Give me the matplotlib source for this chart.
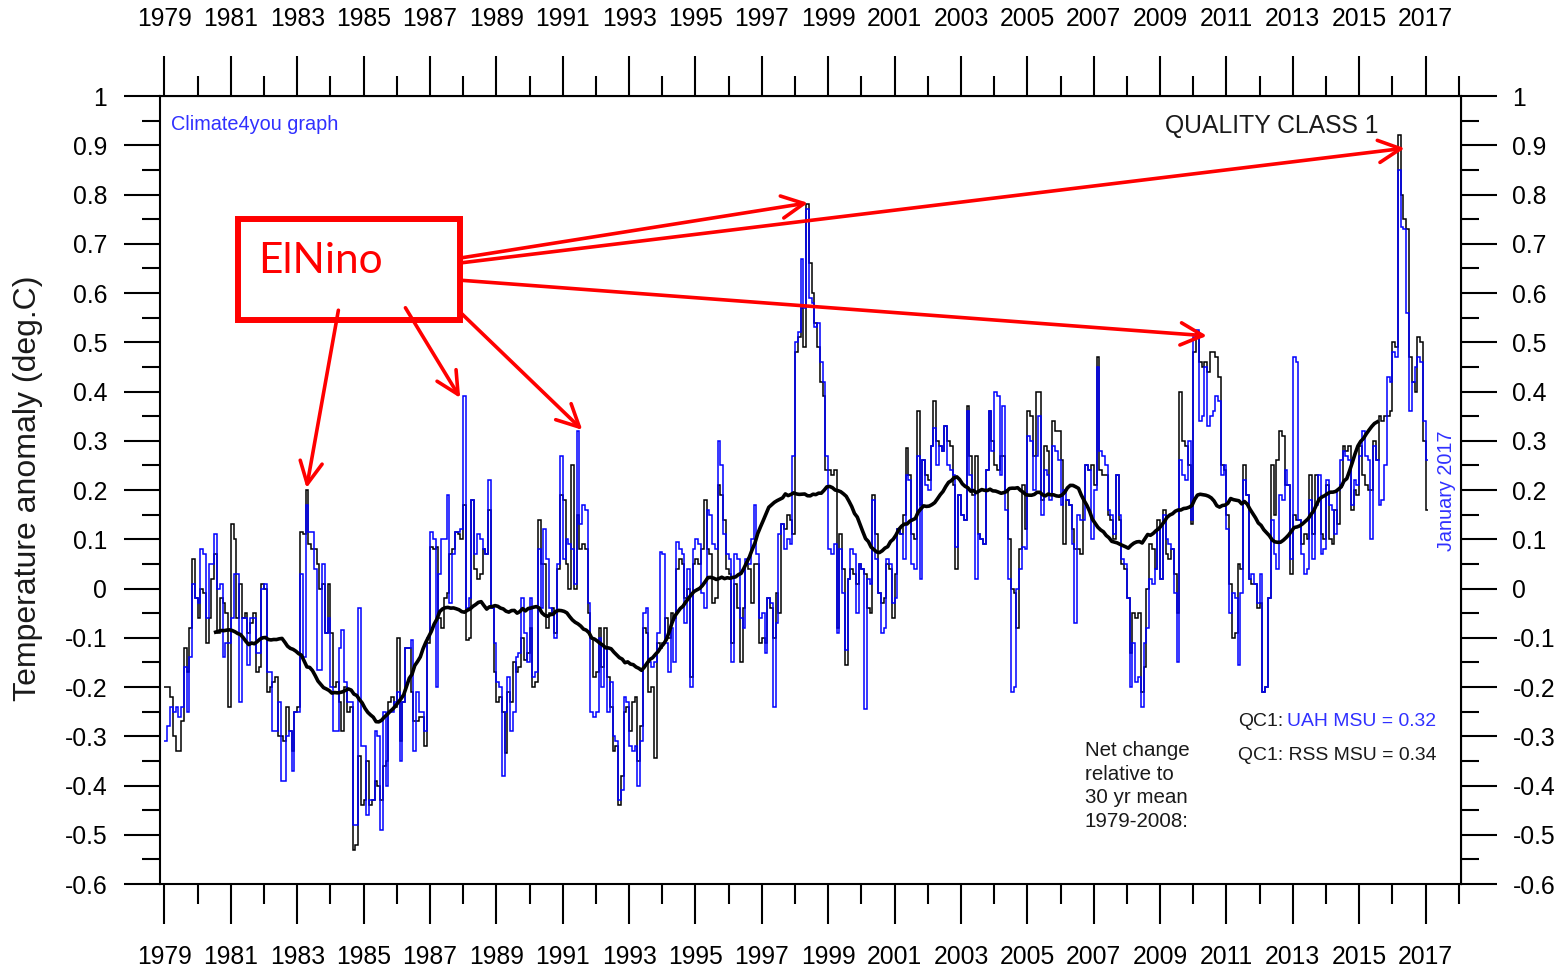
import numpy as np
import matplotlib
matplotlib.use('Agg')
import matplotlib.pyplot as plt
from matplotlib import font_manager
from matplotlib.patches import Rectangle
from matplotlib.ticker import MultipleLocator, FuncFormatter

# monthly anomalies (deg C), Jan 1979 .. Jan 2017
uah = [
    -0.31, -0.28, -0.24, -0.25, -0.24, -0.26, -0.24, -0.16, -0.25, -0.14, 0.01, -0.02,   # 1979
    -0.03, 0.08, 0.07, -0.06, 0.05, 0.05, 0.11, 0.00, 0.01, -0.14, -0.11, -0.11,        # 1980
    -0.06, 0.03, 0.03, -0.23, -0.06, -0.06, -0.155, -0.06, -0.06, -0.13, -0.13, 0.00,   # 1981
    0.01, -0.17, -0.17, -0.29, -0.29, -0.23, -0.39, -0.39, -0.30, -0.29, -0.37, -0.25,  # 1982
    -0.25, 0.03, -0.14, 0.17, 0.115, 0.115, 0.04, -0.165, -0.165, 0.05, -0.09, -0.06,   # 1983
    -0.20, -0.29, -0.29, -0.12, -0.085, -0.19, -0.23, -0.23, -0.48, -0.48, -0.04, -0.32, # 1984
    -0.32, -0.46, -0.43, -0.43, -0.29, -0.30, -0.49, -0.25, -0.40, -0.25, -0.25, -0.23, # 1985
    -0.21, -0.35, -0.23, -0.12, -0.12, -0.105, -0.33, -0.21, -0.25, -0.25, -0.29, -0.10, # 1986
    0.115, 0.10, -0.20, 0.03, 0.10, 0.10, 0.19, -0.03, 0.07, 0.115, 0.115, 0.12,       # 1987
    0.39, -0.04, -0.02, 0.18, 0.07, 0.11, 0.10, 0.08, 0.07, 0.22, -0.04, -0.11,        # 1988
    -0.19, -0.20, -0.38, -0.25, -0.18, -0.29, -0.25, -0.14, -0.13, -0.02, -0.09, -0.15, # 1989
    -0.02, -0.18, -0.17, 0.08, -0.04, 0.12, 0.06, -0.04, -0.05, -0.10, 0.05, 0.27,     # 1990
    0.06, 0.10, 0.09, 0.08, 0.01, 0.32, 0.13, 0.17, 0.16, -0.03, -0.25, -0.26,         # 1991
    -0.25, -0.10, -0.20, -0.12, -0.25, -0.19, -0.30, -0.31, -0.43, -0.41, -0.22, -0.23, # 1992
    -0.32, -0.33, -0.32, -0.40, -0.31, -0.05, -0.04, -0.15, -0.16, -0.15, -0.09, 0.075, # 1993
    0.07, -0.11, -0.17, -0.08, -0.15, 0.095, 0.08, 0.07, -0.07, 0.04, -0.20, 0.08,     # 1994
    0.10, 0.09, -0.01, -0.04, 0.16, 0.15, 0.09, 0.08, 0.30, 0.25, 0.11, 0.07,          # 1995
    0.06, -0.15, 0.07, 0.06, -0.06, -0.08, 0.06, 0.05, 0.10, 0.17, 0.07, -0.06,        # 1996
    -0.05, -0.13, -0.02, -0.03, -0.24, -0.07, 0.11, 0.13, 0.08, 0.10, 0.09, 0.27,      # 1997
    0.50, 0.52, 0.67, 0.57, 0.77, 0.59, 0.58, 0.53, 0.54, 0.46, 0.42, 0.27,            # 1998
    0.08, 0.07, 0.09, -0.09, 0.08, -0.01, -0.125, 0.02, 0.08, 0.07, -0.05, 0.05,       # 1999
    0.04, -0.245, 0.02, 0.01, 0.18, 0.06, -0.01, -0.09, -0.08, 0.06, 0.05, -0.03,      # 2000
    -0.02, 0.12, 0.11, 0.06, 0.23, 0.22, 0.05, 0.04, 0.27, 0.02, 0.26, 0.21,           # 2001
    0.20, 0.29, 0.325, 0.25, 0.29, 0.28, 0.33, 0.25, 0.24, 0.23, 0.085, 0.19,          # 2002
    0.15, 0.14, 0.36, 0.23, 0.20, 0.02, 0.11, 0.10, 0.09, 0.24, 0.36, 0.28,            # 2003
    0.40, 0.39, 0.23, 0.37, 0.16, 0.02, -0.21, -0.20, 0.00, 0.04, 0.085, 0.08,         # 2004
    0.31, 0.30, 0.20, 0.27, 0.35, 0.15, 0.24, 0.23, 0.18, 0.29, 0.28, 0.26,            # 2005
    0.17, 0.20, 0.18, 0.17, 0.09, -0.07, 0.15, 0.14, 0.14, 0.25, 0.24, 0.10,           # 2006
    0.20, 0.45, 0.28, 0.27, 0.25, 0.16, 0.15, 0.11, 0.23, 0.15, 0.06, 0.05,            # 2007
    -0.02, -0.20, -0.11, -0.19, -0.18, -0.24, -0.11, -0.08, 0.02, 0.01, 0.04, 0.12,    # 2008
    0.02, 0.15, 0.10, 0.09, 0.08, -0.01, -0.15, 0.26, 0.23, 0.22, 0.30, 0.14,          # 2009
    0.51, 0.525, 0.34, 0.35, 0.45, 0.33, 0.35, 0.36, 0.39, 0.38, 0.23, 0.25,           # 2010
    0.12, -0.05, -0.01, -0.02, -0.155, -0.01, 0.22, 0.19, 0.02, 0.03, 0.01, -0.03,     # 2011
    0.03, -0.21, -0.20, -0.02, 0.14, 0.07, 0.04, 0.19, 0.18, 0.24, 0.21, 0.06,         # 2012
    0.47, 0.46, 0.14, 0.07, 0.03, 0.04, 0.18, 0.06, 0.17, 0.23, 0.07, 0.08,            # 2013
    0.22, 0.17, 0.16, 0.11, 0.20, 0.26, 0.28, 0.27, 0.26, 0.17, 0.22, 0.21,            # 2014
    0.27, 0.32, 0.27, 0.26, 0.10, 0.29, 0.26, 0.17, 0.18, 0.25, 0.43, 0.42,            # 2015
    0.48, 0.47, 0.85, 0.735, 0.73, 0.56, 0.36, 0.42, 0.45, 0.47, 0.46, 0.34,           # 2016
    0.26,                                                                              # 2017
]

rss = [
    -0.20, -0.20, -0.22, -0.30, -0.33, -0.33, -0.27, -0.12, -0.17, -0.08, 0.06, -0.02,  # 1979
    -0.06, 0.00, -0.01, -0.11, -0.06, 0.02, 0.07, -0.09, -0.02, -0.03, -0.05, -0.24,    # 1980
    0.13, 0.10, -0.06, 0.01, -0.06, -0.05, -0.09, -0.07, -0.05, -0.17, -0.16, 0.01,     # 1981
    0.00, -0.21, -0.20, -0.19, -0.18, -0.30, -0.30, -0.31, -0.24, -0.29, -0.33, -0.25,  # 1982
    -0.24, 0.115, 0.11, 0.20, 0.09, 0.08, 0.08, 0.05, 0.00, 0.01, -0.09, 0.01,          # 1983
    -0.09, -0.20, -0.19, -0.23, -0.29, -0.20, -0.25, -0.24, -0.53, -0.52, -0.34, -0.44, # 1984
    -0.43, -0.35, -0.44, -0.43, -0.39, -0.40, -0.43, -0.36, -0.35, -0.23, -0.22, -0.24, # 1985
    -0.10, -0.31, -0.23, -0.12, -0.12, -0.21, -0.27, -0.27, -0.26, -0.26, -0.32, -0.11, # 1986
    0.085, 0.08, 0.085, -0.06, -0.08, -0.02, -0.01, 0.07, 0.08, 0.115, 0.11, 0.10,      # 1987
    0.17, -0.105, -0.10, 0.18, 0.04, 0.02, 0.03, 0.08, 0.07, 0.16, -0.04, -0.17,        # 1988
    -0.23, -0.22, -0.25, -0.335, -0.21, -0.23, -0.15, -0.17, -0.16, -0.10, -0.145, -0.13, # 1989
    -0.08, -0.20, -0.19, 0.14, 0.05, 0.05, -0.08, -0.05, -0.04, -0.09, 0.04, 0.19,      # 1990
    0.18, 0.05, 0.00, 0.25, 0.00, 0.15, 0.08, 0.09, 0.08, -0.05, -0.10, -0.18,          # 1991
    -0.17, -0.08, -0.16, -0.08, -0.18, -0.24, -0.33, -0.32, -0.44, -0.38, -0.25, -0.24, # 1992
    -0.29, -0.23, -0.22, -0.35, -0.28, -0.08, -0.09, -0.21, -0.20, -0.345, -0.11, -0.12, # 1993
    -0.11, -0.06, -0.10, -0.05, -0.06, 0.04, 0.06, 0.05, -0.02, 0.00, -0.18, 0.05,      # 1994
    0.06, 0.05, 0.08, 0.18, 0.08, 0.07, -0.03, -0.02, 0.21, 0.19, 0.14, 0.04,           # 1995
    0.03, -0.11, 0.01, -0.04, -0.15, -0.04, 0.05, 0.04, -0.03, 0.05, 0.05, -0.11,       # 1996
    -0.10, -0.11, -0.02, -0.04, -0.10, -0.01, -0.05, 0.13, 0.12, 0.15, 0.14, 0.11,      # 1997
    0.48, 0.51, 0.57, 0.49, 0.78, 0.66, 0.60, 0.54, 0.49, 0.42, 0.39, 0.24,             # 1998
    0.24, 0.23, 0.24, -0.08, 0.11, 0.04, -0.155, 0.02, 0.04, 0.03, 0.01, 0.05,          # 1999
    0.04, 0.03, -0.04, -0.05, 0.19, 0.11, -0.01, -0.03, -0.02, 0.05, 0.04, -0.06,       # 2000
    0.03, 0.12, 0.11, 0.15, 0.285, 0.23, 0.11, 0.10, 0.36, 0.17, 0.26, 0.23,            # 2001
    0.22, 0.29, 0.38, 0.30, 0.29, 0.28, 0.33, 0.30, 0.29, 0.21, 0.04, 0.19,             # 2002
    0.15, 0.14, 0.37, 0.27, 0.19, 0.27, 0.11, 0.10, 0.09, 0.24, 0.36, 0.30,             # 2003
    0.25, 0.24, 0.27, 0.27, 0.20, 0.10, 0.00, -0.01, -0.08, 0.08, 0.21, 0.12,           # 2004
    0.36, 0.35, 0.27, 0.40, 0.40, 0.18, 0.29, 0.28, 0.19, 0.34, 0.32, 0.32,             # 2005
    0.26, 0.09, 0.18, 0.17, 0.12, 0.08, 0.08, 0.07, 0.18, 0.25, 0.24, 0.25,             # 2006
    0.21, 0.47, 0.24, 0.23, 0.23, 0.15, 0.14, 0.10, 0.23, 0.14, 0.05, 0.04,             # 2007
    -0.02, -0.13, -0.05, -0.06, -0.05, -0.21, -0.16, 0.00, 0.09, 0.08, 0.04, 0.14,      # 2008
    0.02, 0.16, 0.07, 0.06, 0.08, 0.03, -0.05, 0.40, 0.30, 0.29, 0.25, 0.13,            # 2009
    0.48, 0.52, 0.46, 0.45, 0.46, 0.44, 0.48, 0.48, 0.47, 0.43, 0.25, 0.24,             # 2010
    0.15, 0.01, -0.10, -0.09, 0.05, 0.04, 0.25, 0.19, 0.02, 0.01, 0.01, -0.04,          # 2011
    -0.03, -0.21, -0.20, -0.02, 0.25, 0.15, 0.26, 0.32, 0.31, 0.21, 0.21, 0.03,         # 2012
    0.15, 0.14, 0.14, 0.09, 0.11, 0.10, 0.23, 0.11, 0.23, 0.18, 0.11, 0.10,             # 2013
    0.21, 0.10, 0.09, 0.16, 0.13, 0.21, 0.29, 0.28, 0.29, 0.16, 0.20, 0.19,             # 2014
    0.29, 0.23, 0.21, 0.20, 0.20, 0.30, 0.26, 0.35, 0.34, 0.35, 0.35, 0.36,             # 2015
    0.50, 0.49, 0.92, 0.80, 0.75, 0.73, 0.47, 0.42, 0.40, 0.51, 0.50, 0.30,             # 2016
    0.16,                                                                               # 2017
]

start_year = 1979
major_years = list(range(1979, 2018, 2))
minor_years = list(range(1980, 2019, 2))

# El Nino annotation: box and arrows (tail, head) in data units
elnino_box = (1981.23, 0.545, 6.68, 0.205)
elnino_arrows = [
    ((1984.24, 0.565), (1983.28, 0.204)),
    ((1986.26, 0.570), (1987.91, 0.387)),
    ((1987.91, 0.561), (1991.59, 0.322)),
    ((1987.91, 0.671), (1998.39, 0.783)),
    ((1987.91, 0.661), (2016.37, 0.894)),
    ((1987.91, 0.626), (2010.41, 0.513)),
]

names = {f.name for f in font_manager.fontManager.ttflist}
if 'Liberation Sans Narrow' in names:
    NARROW, k = 'Liberation Sans Narrow', 1.0
else:
    NARROW, k = 'Liberation Sans', 0.87
HUMAN = 'Lato' if 'Lato' in names else 'Open Sans'
plt.rcParams['axes.unicode_minus'] = False

W, H = 1558, 971
fig = plt.figure(figsize=(W / 100, H / 100), dpi=100)
ax = fig.add_axes([160 / W, 1 - 884 / H, (1461 - 160) / W, (884 - 96) / H])


def px(x, y):
    return x / W, 1 - y / H


uah = np.array(uah)
rss = np.array(rss)
edges = start_year + np.arange(len(uah) + 1) / 12.0

ax.stairs(rss, edges, baseline=None, color='black', lw=1.1, zorder=2)
ax.stairs(uah, edges, baseline=None, color='#0000ff', lw=1.1, zorder=3)

# 37-month running mean
both = (uah + rss) / 2
rm = np.convolve(both, np.ones(37) / 37, mode='valid')
x_rm = start_year + (np.arange(18, 18 + len(rm)) + 0.5) / 12.0
ax.plot(x_rm, rm, color='black', lw=2.6, zorder=4)

ax.set_xlim(1978.865, 2018.066)
ax.set_ylim(-0.6, 1.0)


def yfmt(v, p):
    s = f'{v:.1f}'
    if s in ('0.0', '-0.0'):
        return '0'
    if s.endswith('.0'):
        s = s[:-2]
    return s


for a in ['left', 'right', 'top', 'bottom']:
    ax.spines[a].set_linewidth(1.5)

ax.set_xticks(major_years)
ax.set_xticks(minor_years, minor=True)
ax.yaxis.set_major_locator(MultipleLocator(0.1))
ax.yaxis.set_minor_locator(MultipleLocator(0.05))
ax.yaxis.set_major_formatter(FuncFormatter(yfmt))
ax.tick_params(axis='x', which='major', length=29, width=1.5, pad=15)
ax.tick_params(axis='x', which='minor', length=14.5, width=1.5)
ax.tick_params(axis='y', which='major', length=26, width=1.5, pad=12)
ax.tick_params(axis='y', which='minor', length=13, width=1.5)

secx = ax.secondary_xaxis('top')
secx.set_xticks(major_years)
secx.set_xticks(minor_years, minor=True)
secx.tick_params(axis='x', which='major', length=29, width=1.5, pad=18)
secx.tick_params(axis='x', which='minor', length=14.5, width=1.5)

secy = ax.secondary_yaxis('right')
secy.yaxis.set_major_locator(MultipleLocator(0.1))
secy.yaxis.set_minor_locator(MultipleLocator(0.05))
secy.yaxis.set_major_formatter(FuncFormatter(yfmt))
secy.tick_params(axis='y', which='major', length=26, width=1.5, pad=11)
secy.tick_params(axis='y', which='minor', length=13, width=1.5)

for a in (ax, secx, secy):
    for lab in a.get_xticklabels() + a.get_yticklabels():
        lab.set_fontfamily(NARROW)
        lab.set_fontsize(20.5 * k)

fig.text(*px(28, 488), 'Temperature anomaly (deg.C)', rotation=90, ha='center',
         va='center', fontsize=23, family='Liberation Sans', color='#1a1a1a')

fig.text(*px(171, 124), 'Climate4you graph', ha='left', va='center',
         fontsize=16.5 * k, family=NARROW, color='#3030ff')
fig.text(*px(1165, 126), 'QUALITY CLASS 1', ha='left', va='center',
         fontsize=20.5 * k, family=NARROW, color='#1a1a1a')
fig.text(*px(1446, 491), 'January 2017', rotation=90, ha='center', va='center',
         fontsize=16.5 * k, family=NARROW, color='#3030ff')
fig.text(*px(1238, 721), 'QC1:', ha='left', va='center', fontsize=16 * k,
         family=NARROW, color='#1a1a1a')
fig.text(*px(1287, 721), 'UAH MSU = 0.32', ha='left', va='center',
         fontsize=16 * k, family=NARROW, color='#3030ff')
fig.text(*px(1238, 755), 'QC1: RSS MSU = 0.34', ha='left', va='center',
         fontsize=16 * k, family=NARROW, color='#1a1a1a')
fig.text(*px(1085, 741), 'Net change\nrelative to\n30 yr mean\n1979-2008:',
         ha='left', va='top', fontsize=17 * k, family=NARROW, color='#1a1a1a',
         linespacing=1.3)

bx, by, bw, bh = elnino_box
ax.add_patch(Rectangle((bx, by), bw, bh, fill=False, ec='#ff0000', lw=4.3, zorder=6))
ax.text(bx + 0.6, by + 0.12, 'ElNino', ha='left', va='center', fontsize=30.5,
        family=HUMAN, color='#ff0000', zorder=6)
for tail, head in elnino_arrows:
    ax.annotate('', xy=head, xytext=tail,
                arrowprops=dict(arrowstyle='->,head_length=0.8,head_width=0.4',
                                color='#ff0000', lw=2.6, shrinkA=0, shrinkB=0,
                                mutation_scale=20),
                zorder=6)

fig.savefig('out.png', dpi=100)
